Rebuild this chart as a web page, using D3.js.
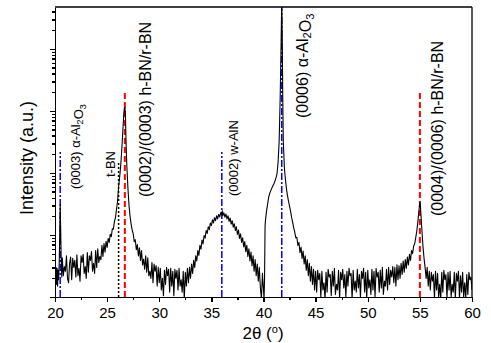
<!DOCTYPE html>
<html lang="en">
<head>
<meta charset="UTF-8">
<title>XRD pattern</title>
<style>
  body { margin: 0; background: #fff; }
  svg { display: block; font-family: "Liberation Sans", Arial, sans-serif; }
  .axis path, .axis line { stroke: #000; stroke-width: 1.3; shape-rendering: crispEdges; }
  .axis text { font-size: 15px; fill: #000; }
</style>
</head>
<body>
<div id="chart"></div>
<script src="https://d3js.org/d3.v7.min.js"></script>
<script>
// --- data: [2theta, intensity (a.u.)] ---
const scan = [
  [20.00,3.2],[20.05,1.8],[20.10,3.0],[20.15,1.6],[20.20,2.9],[20.25,1.5],[20.30,2.7],[20.35,1.9],[20.40,3.4],
  [20.45,9],[20.50,31],[20.55,11],[20.60,3.6],[20.65,2.1],
  [20.7,4.3],[20.8,2.2],[20.9,3.1],[21.0,2.6],[21.1,4.6],[21.2,2.0],[21.3,1.7],[21.4,3.5],[21.5,4.4],[21.6,1.9],
  [21.7,4.2],[21.8,3.0],[21.9,3.9],[22.0,2.1],[22.1,4.8],[22.2,2.2],[22.3,2.9],[22.4,1.8],[22.5,4.6],[22.6,3.6],
  [22.7,4.9],[22.8,2.4],[22.9,3.1],[23.0,2.0],[23.1,5.2],[23.2,2.5],[23.3,4.6],[23.4,3.9],[23.5,5.4],[23.6,2.6],
  [23.7,3.5],[23.8,2.4],[23.9,5.6],[24.0,3.0],[24.1,6.0],[24.2,3.6],[24.3,4.5],[24.4,4.0],[24.5,6.8],[24.6,4.5],
  [24.7,7.3],[24.8,5.3],[24.9,7.9],[25.0,6.3],[25.1,8.8],[25.2,7.6],[25.3,10.3],[25.4,9.4],[25.5,12.6],[25.6,12.4],
  [25.7,16.5],[25.8,19],[25.9,26],[26.0,35],[26.1,60],[26.2,85],[26.3,130],[26.4,230],[26.5,450],[26.6,900],
  [26.65,1100],[26.7,1150],[26.75,950],[26.8,400],[26.85,200],[26.9,120],[27.0,55],[27.1,30],[27.2,20],[27.3,15],
  [27.4,12],[27.5,10.5],[27.6,7.8],[27.7,8.4],[27.8,5.8],[27.9,7.0],[28.0,4.6],[28.1,6.2],[28.2,3.9],[28.3,5.6],
  [28.4,3.3],[28.5,4.1],[28.6,2.8],[28.7,4.6],[28.8,2.5],[28.9,4.3],[29.0,2.2],[29.1,2.6],[29.2,2.0],[29.3,3.6],
  [29.4,1.7],[29.5,3.4],[29.6,2.6],[29.7,3.2],[29.8,1.5],[29.9,3.0],[30.0,1.7],[30.1,2.9],[30.2,1.3],[30.3,2.0],
  [30.4,1.05],[30.5,2.7],[30.6,1.6],[30.7,3.0],[30.8,2.2],[30.9,2.8],[31.0,1.2],[31.1,2.9],[31.2,1.5],[31.3,2.6],
  [31.4,1.05],[31.5,2.8],[31.6,2.0],[31.7,2.7],[31.8,1.3],[31.9,2.9],[32.0,1.5],[32.1,1.9],[32.2,1.2],[32.3,2.6],
  [32.4,0.9],[32.5,2.5],[32.6,1.5],[32.7,2.9],[32.8,1.7],[32.9,3.0],[33.0,2.0],[33.1,3.4],[33.2,2.4],[33.3,3.9],
  [33.4,3.0],[33.5,4.6],[33.6,3.8],[33.7,5.6],[33.8,4.7],[33.9,6.8],[34.0,5.9],[34.1,8.3],[34.2,7.2],[34.3,9.8],
  [34.4,8.9],[34.5,11.8],[34.6,10.6],[34.7,13.6],[34.8,12.2],[34.9,15.6],[35.0,14.2],[35.1,17.6],[35.2,15.6],[35.3,19.0],
  [35.4,17.0],[35.5,20.4],[35.6,18.2],[35.7,21.5],[35.8,19.6],[35.9,23.0],[36.0,21.0],[36.05,24.5],[36.1,20.5],[36.2,22.8],
  [36.3,19.4],[36.4,21.8],[36.5,18.2],[36.6,20.4],[36.7,16.6],[36.8,18.8],[36.9,15.0],[37.0,17.0],[37.1,13.4],[37.2,15.2],
  [37.3,11.8],[37.4,13.6],[37.5,10.2],[37.6,12.0],[37.7,8.8],[37.8,10.4],[37.9,7.6],[38.0,9.0],[38.1,6.4],[38.2,7.8],
  [38.3,5.4],[38.4,6.8],[38.5,4.5],[38.6,6.0],[38.7,3.8],[38.8,5.3],[38.9,3.2],[39.0,4.6],[39.1,2.6],[39.2,4.0],
  [39.3,2.2],[39.4,3.4],[39.5,1.8],[39.6,3.0],[39.7,1.4],[39.8,0.95],[39.9,2.4],[40.0,1.3],[40.05,0.93],[40.1,1.9],
  [40.15,14],[40.2,18],[40.3,25],[40.4,32],[40.5,41],[40.6,47],[40.7,52],[40.8,57],[40.9,62],[41.0,67],
  [41.1,74],[41.2,84],[41.3,98],[41.4,150],[41.5,320],[41.6,1600],[41.7,16000],[41.75,60000],[41.8,14000],[41.85,1500],
  [41.9,320],[42.0,125],[42.1,80],[42.2,56],[42.3,43],[42.4,35],[42.5,29],[42.6,24],[42.7,19],[42.8,16],
  [42.9,13],[43.0,11],[43.1,9.0],[43.2,9.2],[43.3,6.8],[43.4,7.6],[43.5,5.2],[43.6,6.4],[43.7,4.2],[43.8,5.5],
  [43.9,3.4],[44.0,4.6],[44.1,2.7],[44.2,4.0],[44.3,2.2],[44.4,3.5],[44.5,1.8],[44.6,3.1],[44.7,1.6],[44.8,2.8],
  [44.9,1.3],[45.0,2.6],[45.1,1.2],[45.2,2.7],[45.3,1.9],[45.4,2.4],[45.5,1.0],[45.6,2.6],[45.7,1.3],[45.8,1.7],
  [45.9,0.92],[46.0,2.5],[46.1,1.2],[46.2,2.8],[46.3,2.1],[46.4,2.3],[46.5,1.05],[46.6,2.6],[46.7,1.5],[46.8,2.9],
  [46.9,1.1],[47.0,1.6],[47.1,1.3],[47.2,2.7],[47.3,0.95],[47.4,2.5],[47.5,1.9],[47.6,2.8],[47.7,1.4],[47.8,2.3],
  [47.9,1.0],[48.0,2.6],[48.1,1.5],[48.2,2.9],[48.3,2.2],[48.4,2.4],[48.5,0.92],[48.6,2.7],[48.7,1.3],[48.8,1.8],
  [48.9,1.2],[49.0,2.8],[49.1,1.4],[49.2,2.3],[49.3,1.0],[49.4,2.6],[49.5,2.0],[49.6,2.9],[49.7,1.2],[49.8,2.5],
  [49.9,0.94],[50.0,2.7],[50.1,1.4],[50.2,1.9],[50.3,1.1],[50.4,2.8],[50.5,1.3],[50.6,2.6],[50.7,1.0],[50.8,2.9],
  [50.9,2.1],[51.0,2.5],[51.1,1.2],[51.2,2.7],[51.3,1.4],[51.4,3.0],[51.5,1.1],[51.6,1.8],[51.7,1.5],[51.8,2.8],
  [51.9,1.3],[52.0,3.0],[52.1,1.6],[52.2,2.7],[52.3,2.1],[52.4,3.1],[52.5,1.7],[52.6,3.0],[52.7,1.5],[52.8,3.3],
  [52.9,1.9],[53.0,3.2],[53.1,2.0],[53.2,3.5],[53.3,2.3],[53.4,3.8],[53.5,2.5],[53.6,4.0],[53.7,2.9],[53.8,4.4],
  [53.9,3.3],[54.0,4.9],[54.1,3.9],[54.2,5.6],[54.3,5.0],[54.4,6.6],[54.5,7.2],[54.6,9.0],[54.7,11.5],[54.8,16],
  [54.9,24],[55.0,34],[55.05,30],[55.1,22],[55.2,11.5],[55.3,6.5],[55.4,4.2],[55.5,3.0],[55.6,2.0],[55.7,3.0],
  [55.8,1.5],[55.9,2.6],[56.0,1.3],[56.1,2.5],[56.2,1.8],[56.3,2.3],[56.4,0.95],[56.5,2.6],[56.6,1.3],[56.7,2.4],
  [56.8,1.0],[56.9,1.6],[57.0,0.92],[57.1,2.5],[57.2,1.2],[57.3,2.7],[57.4,1.9],[57.5,2.3],[57.6,0.96],[57.7,2.5],
  [57.8,1.3],[57.9,2.6],[58.0,1.0],[58.1,1.6],[58.2,1.2],[58.3,2.5],[58.4,0.94],[58.5,2.4],[58.6,1.8],[58.7,2.6],
  [58.8,0.97],[58.9,2.2],[59.0,1.2],[59.1,2.5],[59.2,1.0],[59.3,1.7],[59.4,0.93],[59.5,2.3],[59.6,1.1],[59.7,2.5],
  [59.8,1.9],[59.9,2.1],[60.0,1.3]
];

// reference peak positions (2theta), how high the marker goes, which phase
const refAngle = [20.5, 26.1, 26.7, 36.0, 41.75, 55.0];
const refTop   = [218, 145, 2000, 218, 47500, 2000];
const refPhase = ["al2o3", "tbn", "hbn", "aln", "al2o3", "hbn"];

// peak labels; "_" marks a subscript character
const labelText = ["(0003) α-Al_2O_3", "t-BN", "(0002)/(0003) h-BN/r-BN", "(0002) w-AlN", "(0006) α-Al_2O_3", "(0004)/(0006) h-BN/r-BN"];
const labelAngle = [20.5, 26.1, 26.7, 36.0, 41.75, 55.0];

const xTicks = [20, 25, 30, 35, 40, 45, 50, 55, 60];
const xMinor = [22.5, 27.5, 32.5, 37.5, 42.5, 47.5, 52.5, 57.5];

// --- layout ---
const W = 491, H = 343;
const margin = {top: 7, right: 19, bottom: 46, left: 55};
const iw = W - margin.left - margin.right;
const ih = H - margin.top - margin.bottom;

const svg = d3.select("#chart").append("svg")
    .attr("width", W).attr("height", H);
const g = svg.append("g").attr("transform", `translate(${margin.left},${margin.top})`);

const x = d3.scaleLinear().domain([20, 60]).range([0, iw]);
const y = d3.scaleLog().domain([1, 47500]).range([ih, 0]);

g.append("clipPath").attr("id", "clip")
  .append("rect").attr("width", iw).attr("height", ih);

// log ticks on y, no labels
const decades = [1, 10, 100, 1000, 10000];
const yMinor = [];
decades.forEach(d => { for (let k = 2; k <= 9; k++) if (d * k <= 47500) yMinor.push(d * k); });

g.append("g").attr("class", "axis")
  .call(d3.axisLeft(y).tickValues(yMinor).tickSize(3).tickFormat(""))
  .select(".domain").remove();
g.append("g").attr("class", "axis")
  .call(d3.axisLeft(y).tickValues(decades).tickSize(5).tickSizeOuter(0).tickFormat(""));

g.append("g").attr("class", "axis")
  .attr("transform", `translate(0,${ih})`)
  .call(d3.axisBottom(x).tickValues(xMinor).tickSize(3).tickFormat(""))
  .select(".domain").remove();
const xa = g.append("g").attr("class", "axis")
  .attr("transform", `translate(0,${ih})`)
  .call(d3.axisBottom(x).tickValues(xTicks).tickSize(5).tickSizeOuter(0).tickPadding(3));
xa.selectAll("text").attr("dy", "0.85em");

// frame top + right
g.append("line").attr("x1", 0).attr("x2", iw).attr("y1", 0).attr("y2", 0)
  .attr("stroke", "#000").attr("stroke-width", 1.3);
g.append("line").attr("x1", iw).attr("x2", iw).attr("y1", 0).attr("y2", ih)
  .attr("stroke", "#000").attr("stroke-width", 1.3);

// reference markers
const refStyle = {
  al2o3: {color: "#0000ff", dash: "7,2,2,2", w: 1.5},
  aln:   {color: "#0000ff", dash: "7,2,2,2", w: 1.5},
  hbn:   {color: "#ff0000", dash: "6,3", w: 2},
  tbn:   {color: "#000000", dash: "2,2", w: 1.5}
};
g.append("g").attr("clip-path", "url(#clip)")
  .selectAll("line")
  .data(refAngle.map((a, i) => ({a, top: refTop[i], phase: refPhase[i]})))
  .join("line")
    .attr("x1", d => x(d.a)).attr("x2", d => x(d.a))
    .attr("y1", ih).attr("y2", d => y(d.top))
    .attr("stroke", d => refStyle[d.phase].color)
    .attr("stroke-width", d => refStyle[d.phase].w)
    .attr("stroke-dasharray", d => refStyle[d.phase].dash);

// the scan
g.append("path")
  .datum(scan)
  .attr("clip-path", "url(#clip)")
  .attr("fill", "none")
  .attr("stroke", "#000")
  .attr("stroke-width", 1.1)
  .attr("stroke-linejoin", "round")
  .attr("d", d3.line().x(d => x(d[0])).y(d => y(d[1])));

// rotated labels beside the markers
const labelPos = [
  {dx: 20, y: 182, size: 13},
  {dx: -3.5, y: 170, size: 13},
  {dx: 26, y: 190, size: 16},
  {dx: 16, y: 189, size: 13},
  {dx: 26, y: 111, size: 16},
  {dx: 23, y: 209, size: 16}
];
labelText.forEach((t, i) => {
  const p = labelPos[i];
  const txt = g.append("text")
    .attr("transform", `translate(${x(labelAngle[i]) + p.dx},${p.y}) rotate(-90)`)
    .attr("font-size", p.size);
  const parts = t.split(/(_\d)/);
  parts.forEach(s => {
    if (!s) return;
    if (s[0] === "_") {
      txt.append("tspan").attr("dy", 3).attr("font-size", p.size * 0.7).text(s[1]);
      txt.append("tspan").attr("dy", -3).text("");
    } else {
      txt.append("tspan").text(s);
    }
  });
});

// axis titles
svg.append("text")
  .attr("transform", `translate(33,158) rotate(-90)`)
  .attr("text-anchor", "middle")
  .attr("font-size", 18)
  .text("Intensity (a.u.)");

const xt = svg.append("text")
  .attr("x", 263).attr("y", 339)
  .attr("text-anchor", "middle")
  .attr("font-size", 17);
xt.append("tspan").text("2θ (");
xt.append("tspan").attr("dy", -6).attr("font-size", 11).text("o");
xt.append("tspan").attr("dy", 6).text(")");
</script>
</body>
</html>
